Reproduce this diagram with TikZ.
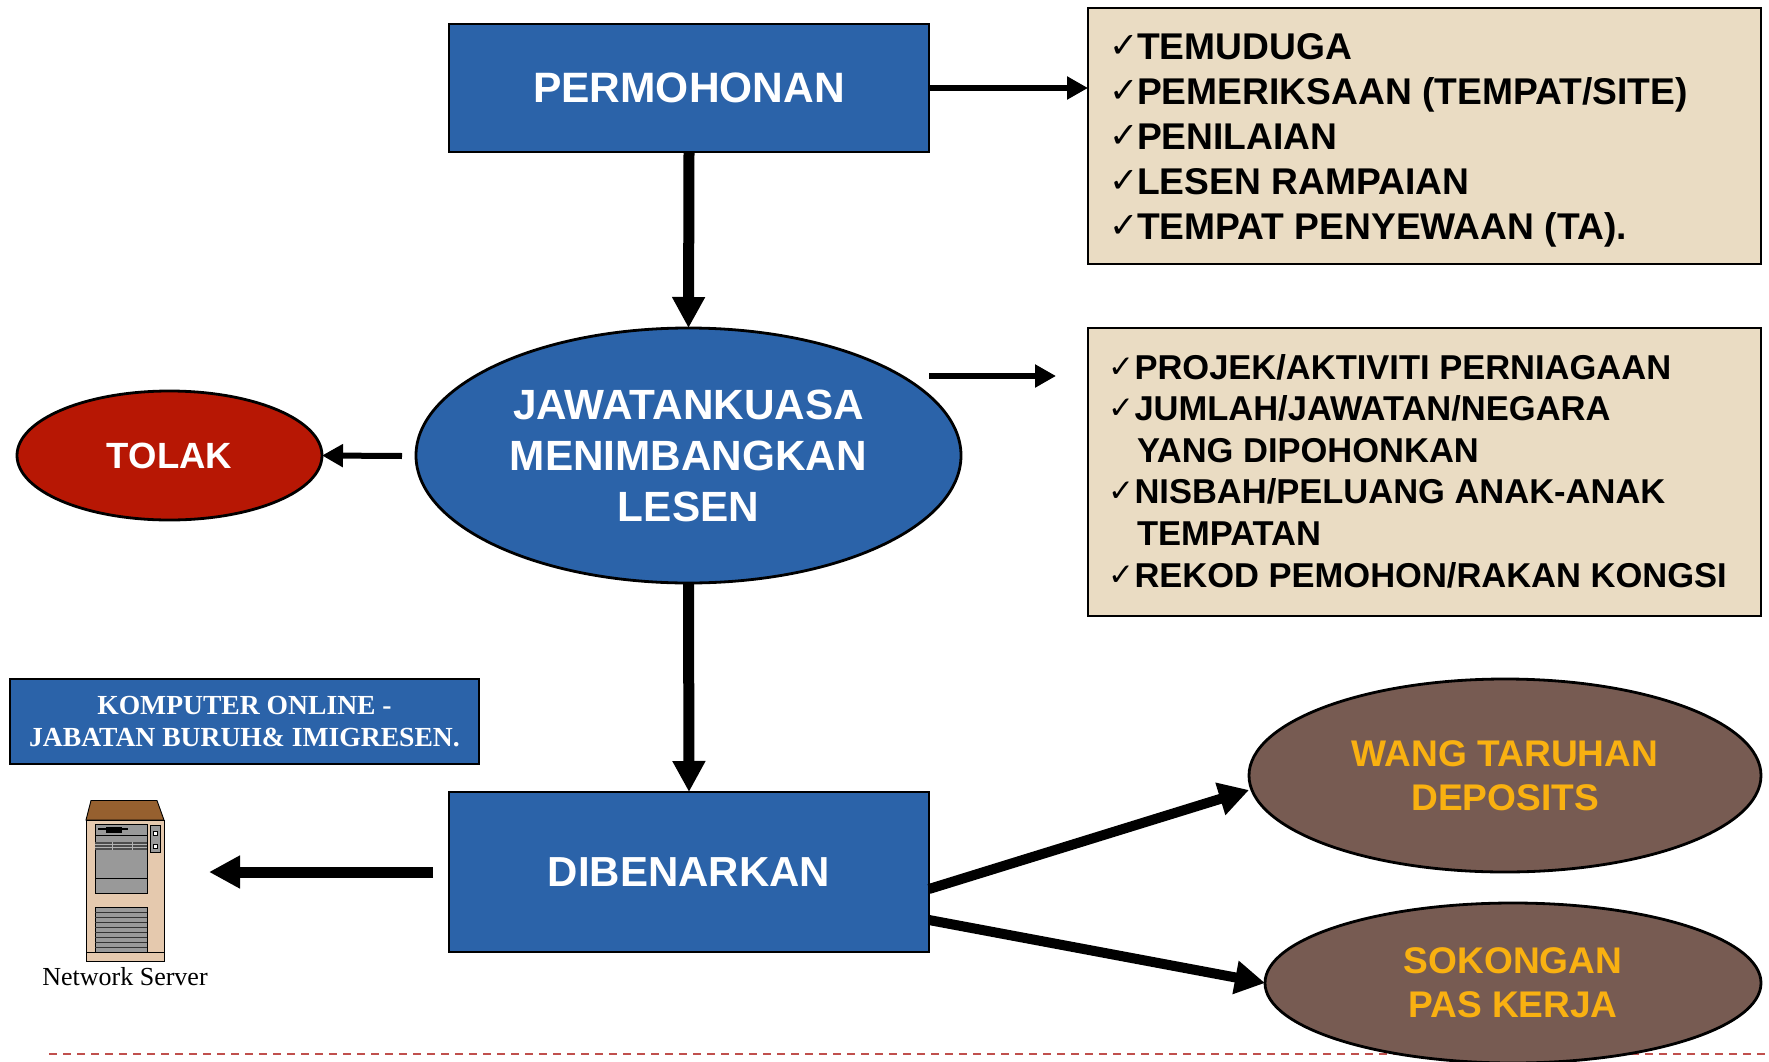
\documentclass[tikz,border=0pt]{standalone}
\usepackage{fontspec}
\setmainfont{Liberation Sans}
\newfontfamily\serifface{Liberation Serif}
\newfontfamily\tickface{DejaVu Sans}
\usetikzlibrary{shapes.geometric,arrows.meta}
\definecolor{boxblue}{HTML}{2B63A9}
\definecolor{tan}{HTML}{EADCC3}
\definecolor{rejectred}{HTML}{B71704}
\definecolor{mudbrown}{HTML}{775B52}
\definecolor{gold}{HTML}{F9B111}
\definecolor{casetop}{HTML}{96602F}
\definecolor{casebody}{HTML}{E5C9AE}
\definecolor{dashred}{HTML}{C0504D}
\newcommand{\fs}[2]{\fontsize{#1pt}{#2pt}\selectfont}
\newcommand{\ck}{\makebox[28pt][l]{\tickface\fontsize{35pt}{35pt}\selectfont\raisebox{2pt}{✓}}}
\newcommand{\ckb}{\makebox[25.5pt][l]{\hspace*{-1pt}\tickface\fontsize{31pt}{31pt}\selectfont\raisebox{2pt}{✓}}}
\newcommand{\ind}{\hspace*{28pt}}
\tikzset{
  x=1pt,y=-1pt,
  shapebase/.style={draw=black,line width=2.8pt,inner sep=0pt,outer sep=0pt,text=white,align=center},
  bluebox/.style={shapebase,rectangle,fill=boxblue},
  tanbox/.style={shapebase,rectangle,fill=tan},
  oval/.style={shapebase,ellipse},
  listtext/.style={anchor=west,inner sep=0pt,outer sep=0pt,align=left,text=black},
  bigarrow/.style={line width=11pt,-{Triangle[length=31pt,width=31pt]}},
  slantarrow/.style={line width=10pt,-{Triangle[length=30pt,width=32pt]}},
  thinarrow/.style={line width=6pt,-{Triangle[length=21pt,width=22pt]}},
  hw/.style={draw=black,line width=0.9pt}
}
\begin{document}
\begin{tikzpicture}
\clip (0,0) rectangle (1769,1062);
\fill[white] (0,0) rectangle (1769,1062);

% dashed rule
\coordinate (ruleL) at (49,1053.5);
\coordinate (ruleR) at (1769,1053.5);
\draw[dashred,line width=2pt,dash pattern=on 8pt off 6pt] (ruleL) -- (ruleR);

% main flow
\node[bluebox,minimum width=480pt,minimum height=128pt,font=\bfseries\fs{42.5}{50}] (perm) at (689,88)
  {PERMOHONAN};
\node[oval,fill=boxblue,minimum width=545pt,minimum height=255pt,font=\bfseries\fs{42.3}{51}] (jk) at (688.5,455.5)
  {JAWATANKUASA\\MENIMBANGKAN\\LESEN};
\node[oval,fill=rejectred,minimum width=305pt,minimum height=129pt,font=\bfseries\fs{36.5}{42}] (tolak) at (169.5,455.5)
  {TOLAK};
\node[bluebox,minimum width=480pt,minimum height=160pt,font=\bfseries\fs{42}{48}] (ben) at (689,872)
  {DIBENARKAN};
\node[oval,fill=mudbrown,text=gold,minimum width=512pt,minimum height=193pt,font=\bfseries\fs{37.1}{44}] (wang) at (1505,775.5)
  {WANG TARUHAN\\DEPOSITS};
\node[oval,fill=mudbrown,text=gold,minimum width=496pt,minimum height=160pt,font=\bfseries\fs{37.1}{44}] (sok) at (1513,983)
  {SOKONGAN\\PAS KERJA};
\node[bluebox,minimum width=469pt,minimum height=85pt,font=\serifface\bfseries\fs{27.6}{32}] (komp) at (244.5,721.5)
  {KOMPUTER ONLINE -\\JABATAN BURUH\& IMIGRESEN.};

% tan boxes
\node[tanbox,minimum width=673pt,minimum height=256pt] (box1) at (1424.5,136) {};
\node[tanbox,minimum width=673pt,minimum height=288pt] (box2) at (1424.5,472) {};
\node[listtext,font=\bfseries\fs{37.2}{45}] (list1) at (1109,140) {\ck TEMUDUGA\\
  \ck PEMERIKSAAN (TEMPAT/SITE)\\
  \ck PENILAIAN\\
  \ck LESEN RAMPAIAN\\
  \ck TEMPAT PENYEWAAN (TA).};
\node[listtext,font=\bfseries\fs{34.5}{41.6}] (list2) at (1109,471) {\ckb PROJEK/AKTIVITI PERNIAGAAN\\
  \ckb JUMLAH/JAWATAN/NEGARA\\
  \ind YANG DIPOHONKAN\\
  \ckb NISBAH/PELUANG ANAK-ANAK\\
  \ind TEMPATAN\\
  \ckb REKOD PEMOHON/RAKAN KONGSI};

% server
\draw[hw,fill=casetop] (86,820) -- (91,800.5) -- (157,800.5) -- (164,820) -- cycle;
\draw[hw,fill=casebody] (86,820) rectangle (164,961);
\draw[hw] (86,952) -- (164,952);
\draw[hw,fill=black!40] (95,824) rectangle (147,893);
\draw[hw] (95,835) -- (147,835);
\fill[black!70] (95,842) rectangle (147,850);
\draw[black!30,line width=0.6pt] (95,844) -- (147,844) (95,847) -- (147,847) (112,842) -- (112,850) (132,842) -- (132,850);
\draw[hw] (95,878) -- (147,878);
\draw[black,line width=1.6pt] (98,829) -- (128,829);
\fill[black] (106,826.5) rectangle (122,833);
\draw[hw,fill=black!40] (150,825) rectangle (160,852);
\draw[black,line width=0.5pt,fill=white] (153,831) rectangle (157,835);
\draw[black,line width=0.5pt,fill=white] (153,844) rectangle (157,848);
\draw[hw,fill=black!40] (95,907) rectangle (147,952);
\foreach \yy in {912,917,922,927,932,937,942,947}{\draw[black!80,line width=0.8pt] (95,\yy) -- (147,\yy);}
\node[inner sep=0pt,font=\serifface\fs{26}{30}] (netlabel) at (125,976.5) {Network Server};

% connectors
\coordinate (jkOutA) at (929,376);
\coordinate (jkOutB) at (1056,376);
\coordinate (tolakFrom) at (402,456);
\coordinate (benFrom) at (433,872);
\coordinate (servTo) at (209,872);
\coordinate (benUp) at (929,889);
\coordinate (benDown) at (929,920);
\coordinate (wangIn) at (1249,790);
\draw[thinarrow] (perm.east) -- (box1.west |- perm.east);
\draw[bigarrow] (perm.south) -- (jk.north);
\draw[thinarrow] (jkOutA) -- (jkOutB);
\draw[thinarrow] (tolakFrom) -- (tolak.east);
\draw[bigarrow] (jk.south) -- (ben.north);
\draw[bigarrow] (benFrom) -- (servTo);
\draw[slantarrow] (benUp) -- (wangIn);
\draw[slantarrow] (benDown) -- (sok.west);
\end{tikzpicture}
\end{document}
